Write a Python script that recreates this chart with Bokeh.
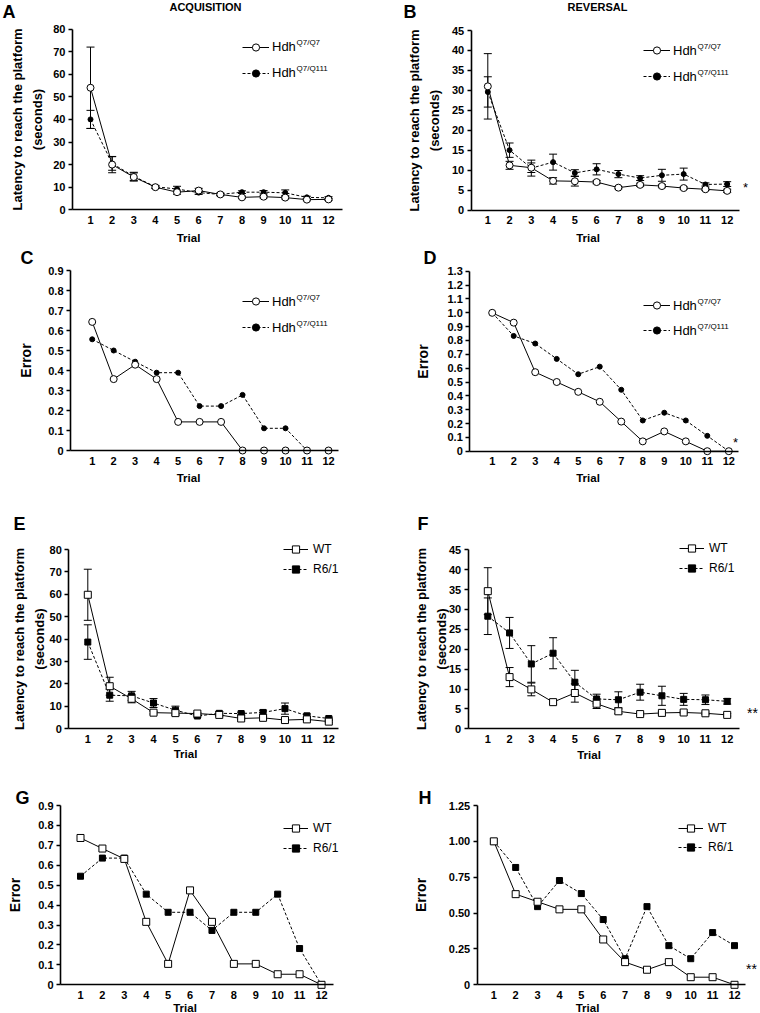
from bokeh.plotting import figure
from bokeh.models import (ColumnDataSource, Whisker, TeeHead, Label, Legend, LegendItem,
                          FixedTicker, Range1d, PrintfTickFormatter, LinearAxis)
from bokeh.core.properties import value
from bokeh.embed import file_html
from bokeh.resources import INLINE

trials = [1, 2, 3, 4, 5, 6, 7, 8, 9, 10, 11, 12]

# A: Hdh acquisition latency (s)
a_wt = [54.0, 20.0, 14.5, 10.0, 7.8, 8.5, 6.8, 5.5, 5.8, 5.4, 4.5, 4.6]
a_wt_sem = [18.0, 3.6, 1.8, 0.6, 0.9, 1.0, 0.5, 0.5, 0.6, 0.6, 0.5, 0.5]
a_q111 = [40.0, 20.5, 14.8, 10.2, 9.2, 7.6, 6.8, 7.8, 7.8, 7.5, 5.5, 5.3]
a_q111_sem = [4.0, 3.0, 1.8, 0.6, 1.2, 0.8, 0.6, 0.6, 0.7, 1.3, 0.5, 0.5]

# B: Hdh reversal latency (s)
b_wt = [31.0, 11.2, 10.6, 7.3, 7.2, 7.0, 5.6, 6.3, 6.0, 5.5, 5.2, 4.8]
b_wt_sem = [8.2, 1.0, 1.2, 0.8, 1.2, 0.4, 0.3, 0.4, 0.4, 0.3, 0.3, 0.4]
b_q111 = [29.6, 15.0, 10.5, 12.0, 9.3, 10.2, 9.0, 8.0, 8.7, 9.0, 6.4, 6.5]
b_q111_sem = [3.8, 1.8, 2.0, 2.0, 0.8, 1.4, 0.9, 0.6, 1.5, 1.5, 0.4, 0.6]

# C: Hdh acquisition error
c_wt = [0.643, 0.357, 0.429, 0.357, 0.143, 0.143, 0.143, 0.0, 0.0, 0.0, 0.0, 0.0]
c_q111 = [0.556, 0.5, 0.444, 0.389, 0.389, 0.222, 0.222, 0.278, 0.111, 0.111, 0.0, 0.0]

# D: Hdh reversal error
d_wt = [1.0, 0.929, 0.571, 0.5, 0.429, 0.357, 0.214, 0.071, 0.143, 0.071, 0.0, 0.0]
d_q111 = [1.0, 0.833, 0.778, 0.667, 0.556, 0.611, 0.444, 0.222, 0.278, 0.222, 0.111, 0.0]

# E: R6/1 acquisition latency (s)
e_wt = [59.8, 19.0, 13.4, 7.2, 7.0, 6.8, 6.2, 4.6, 4.9, 3.9, 4.2, 3.2]
e_wt_sem = [11.4, 4.0, 1.8, 0.6, 1.0, 0.5, 0.6, 0.5, 0.6, 0.5, 0.5, 0.5]
e_r6 = [38.7, 15.0, 14.7, 11.5, 8.3, 5.7, 6.9, 6.8, 7.3, 9.0, 5.8, 4.6]
e_r6_sem = [7.7, 2.7, 2.0, 2.0, 1.8, 0.5, 0.8, 0.6, 1.0, 2.5, 0.8, 0.6]

# F: R6/1 reversal latency (s)
f_wt = [34.6, 13.0, 9.9, 6.7, 9.0, 6.3, 4.4, 3.7, 4.0, 4.1, 3.9, 3.5]
f_wt_sem = [5.9, 2.4, 1.6, 0.5, 2.3, 1.2, 0.6, 0.3, 0.3, 0.3, 0.3, 0.3]
f_r6 = [28.3, 24.1, 16.3, 19.0, 11.7, 7.5, 7.3, 9.2, 8.3, 7.4, 7.3, 6.9]
f_r6_sem = [4.6, 3.9, 4.6, 3.9, 3.0, 1.2, 2.0, 2.0, 2.4, 1.5, 1.2, 0.7]

# G: R6/1 acquisition error
g_wt = [0.737, 0.684, 0.632, 0.316, 0.105, 0.474, 0.316, 0.105, 0.105, 0.053, 0.053, 0.0]
g_r6 = [0.545, 0.636, 0.636, 0.455, 0.364, 0.364, 0.273, 0.364, 0.364, 0.455, 0.182, 0.0]

# H: R6/1 reversal error
h_wt = [1.0, 0.632, 0.579, 0.526, 0.526, 0.316, 0.158, 0.105, 0.158, 0.053, 0.053, 0.0]
h_r6 = [1.0, 0.818, 0.545, 0.727, 0.636, 0.455, 0.182, 0.545, 0.273, 0.182, 0.364, 0.273]

ticks_lat80 = [0, 10, 20, 30, 40, 50, 60, 70, 80]
ticks_lat45 = [0, 5, 10, 15, 20, 25, 30, 35, 40, 45]
ticks_err09 = [0, 0.1, 0.2, 0.3, 0.4, 0.5, 0.6, 0.7, 0.8, 0.9]
ticks_err13 = [0, 0.1, 0.2, 0.3, 0.4, 0.5, 0.6, 0.7, 0.8, 0.9, 1.0, 1.1, 1.2, 1.3]
ticks_err125 = [0, 0.25, 0.5, 0.75, 1.0, 1.25]

LAT_LABEL = "Latency to reach the platform\n(seconds)"
FONT = "Liberation Sans"
W, H = 760, 1013

p = figure(width=W, height=H, x_range=Range1d(0, W), y_range=Range1d(0, H),
           x_axis_type=None, y_axis_type=None, title=None,
           min_border=0, min_border_left=0, min_border_right=0,
           min_border_top=0, min_border_bottom=0,
           output_backend="svg", toolbar_location=None)
p.outline_line_color = None
p.background_fill_color = "white"
p.border_fill_color = "white"

# panel layout: (tick-1 px, tick-12 px, axis left px, axis right px, zero px, top px, top value)
layout_spec = {
    "A": (90.0, 328.0, 72.0, 342.0, 209.3, 28.5, 80),
    "B": (487.3, 726.7, 470.7, 739.3, 209.5, 30.0, 45),
    "C": (91.7, 328.0, 70.0, 338.0, 450.0, 270.0, 0.9),
    "D": (491.7, 728.3, 469.3, 738.3, 450.7, 270.8, 1.3),
    "E": (87.3, 328.3, 68.3, 338.3, 728.3, 549.0, 80),
    "F": (487.3, 726.7, 467.7, 739.3, 728.3, 549.3, 45),
    "G": (80.0, 321.0, 60.0, 333.0, 984.3, 805.0, 0.9),
    "H": (493.3, 734.0, 476.7, 745.0, 984.3, 805.0, 1.25),
}

xr, yr, axis_b = {}, {}, {}
for name, (px1, px12, xl, xrp, py0, ptop, vtop) in layout_spec.items():
    s = (px12 - px1) / 11.0
    k = (py0 - ptop) / vtop
    xr[name] = Range1d(1 + (0 - px1) / s, 1 + (W - px1) / s)
    yr[name] = Range1d((py0 - H) / k, py0 / k)
    axis_b[name] = (1 + (xl - px1) / s, 1 + (xrp - px1) / s, vtop)
p.extra_x_ranges = xr
p.extra_y_ranges = yr


def add_axes(name, yticks, fmt, ylabel, ylsize, ylstand):
    x0, x1, vtop = axis_b[name]
    xa = LinearAxis(x_range_name=name, y_range_name=name, fixed_location=0,
                    bounds=(x0, x1), ticker=FixedTicker(ticks=trials))
    xa.major_tick_line_color = None
    xa.minor_tick_line_color = None
    xa.axis_line_width = 1.6
    xa.major_label_standoff = 0
    xa.major_label_text_font = FONT
    xa.major_label_text_font_size = "11px"
    xa.major_label_text_font_style = "bold"
    xa.major_label_text_color = "black"
    p.add_layout(xa, "below")
    ya = LinearAxis(x_range_name=name, y_range_name=name, fixed_location=x0,
                    bounds=(0, vtop), ticker=FixedTicker(ticks=yticks))
    if fmt is not None:
        ya.formatter = PrintfTickFormatter(format=fmt)
        ya.major_label_overrides = {0: "0"}
    ya.minor_tick_line_color = None
    ya.major_tick_out = 4
    ya.major_tick_in = 0
    ya.major_tick_line_width = 1.3
    ya.axis_line_width = 1.6
    ya.major_label_standoff = 3
    ya.major_label_text_font = FONT
    ya.major_label_text_font_size = "11px"
    ya.major_label_text_font_style = "bold"
    ya.major_label_text_color = "black"
    ya.axis_label = ylabel
    ya.axis_label_text_font = FONT
    ya.axis_label_text_font_size = ylsize
    ya.axis_label_text_font_style = "bold"
    ya.axis_label_text_color = "black"
    ya.axis_label_text_line_height = 1.35
    ya.axis_label_standoff = ylstand
    p.add_layout(ya, "left")


def draw_series(name, ys, sems, marker, size, open_, dash):
    src = ColumnDataSource(dict(x=trials, y=ys))
    if sems is not None:
        lo = [y - e for y, e in zip(ys, sems)]
        hi = [y + e for y, e in zip(ys, sems)]
        wsrc = ColumnDataSource(dict(x=trials, lo=lo, hi=hi))
        p.add_layout(Whisker(source=wsrc, base="x", lower="lo", upper="hi",
                             x_range_name=name, y_range_name=name,
                             line_color="black", line_width=1, level="underlay",
                             upper_head=TeeHead(size=8, line_color="black", line_width=1),
                             lower_head=TeeHead(size=8, line_color="black", line_width=1)))
    ln = p.line("x", "y", source=src, line_color="black", line_width=1, line_dash=dash,
                x_range_name=name, y_range_name=name)
    sc = p.scatter("x", "y", source=src, marker=marker, size=size,
                   fill_color="white" if open_ else "black", line_color="black", line_width=1,
                   x_range_name=name, y_range_name=name)
    return [ln, sc]


def add_label(px, py, text, size, bold=False, align="left", baseline="middle"):
    p.add_layout(Label(x=px, y=H - py, x_units="screen", y_units="screen", text=text,
                       text_font=FONT, text_font_size="%.1fpx" % size,
                       text_font_style="bold" if bold else "normal",
                       text_align=align, text_baseline=baseline, text_color="black"))


def add_legend(items, gx, c1, gap, gw, standoff, fsize):
    ih = 18
    spacing = int(round(gap - ih))
    top = c1 - ih / 2.0
    bottom = top + 2 * ih + spacing
    leg = Legend(items=[LegendItem(label=value(t), renderers=r) for t, r in items],
                 location=(gx, H - bottom), orientation="vertical",
                 glyph_width=gw, glyph_height=ih, label_height=ih, label_width=10,
                 spacing=spacing, padding=0, margin=0, label_standoff=standoff,
                 border_line_color=None, background_fill_alpha=0,
                 label_text_font=FONT, label_text_font_size="%dpx" % fsize,
                 label_text_color="black", label_text_baseline="middle")
    p.add_layout(leg)


def hdh_panel(name, wt, q111, wt_sem, q111_sem, yticks, fmt, ylabel, ylsize, ylstand,
              leg_x, leg_c1, leg_gap):
    add_axes(name, yticks, fmt, ylabel, ylsize, ylstand)
    r_q = draw_series(name, q111, q111_sem, "circle", 5, False, "3 2")
    r_w = draw_series(name, wt, wt_sem, "circle", 7, True, "solid")
    add_legend([("Hdh", r_w), ("Hdh", r_q)], leg_x, leg_c1, leg_gap, 27, 3, 13)
    sx = leg_x + 27 + 3 + 24
    add_label(sx, leg_c1 - 4.5, "Q7/Q7", 8)
    add_label(sx, leg_c1 + leg_gap - 4.5, "Q7/Q111", 8)


def r6_panel(name, wt, r6, wt_sem, r6_sem, yticks, fmt, ylabel, ylsize, ylstand,
             leg_x, leg_c1, leg_gap):
    add_axes(name, yticks, fmt, ylabel, ylsize, ylstand)
    r_r = draw_series(name, r6, r6_sem, "square", 6, False, "3 2")
    r_w = draw_series(name, wt, wt_sem, "square", 7, True, "solid")
    add_legend([("WT", r_w), ("R6/1", r_r)], leg_x, leg_c1, leg_gap, 25, 5, 12)


hdh_panel("A", a_wt, a_q111, a_wt_sem, a_q111_sem, ticks_lat80, None,
          LAT_LABEL, "13px", 5, 242, 46.7, 26)
hdh_panel("B", b_wt, b_q111, b_wt_sem, b_q111_sem, ticks_lat45, None,
          LAT_LABEL, "13px", 7, 643, 50, 26)
hdh_panel("C", c_wt, c_q111, None, None, ticks_err09, "%.1f",
          "Error", "14px", 11, 242, 301, 26)
hdh_panel("D", d_wt, d_q111, None, None, ticks_err13, "%.1f",
          "Error", "14px", 13, 643, 305, 25)
r6_panel("E", e_wt, e_r6, e_wt_sem, e_r6_sem, ticks_lat80, None,
         LAT_LABEL, "13px", -1, 283, 549, 20)
r6_panel("F", f_wt, f_r6, f_wt_sem, f_r6_sem, ticks_lat45, None,
         LAT_LABEL, "13px", -3, 679, 548, 20)
r6_panel("G", g_wt, g_r6, None, None, ticks_err09, "%.1f",
         "Error", "14px", 12, 283, 828, 20)
r6_panel("H", h_wt, h_r6, None, None, ticks_err125, "%.2f",
         "Error", "14px", 17, 678, 828, 19)

# panel letters and column headers
for letter, lx, ly in [("A", 2, 11.5), ("B", 403, 11.5), ("C", 20, 257.5), ("D", 423, 257.5),
                       ("E", 13, 523.5), ("F", 417, 523.5), ("G", 15, 797.5), ("H", 418, 797.5)]:
    add_label(lx, ly, letter, 18, bold=True)
add_label(205, 6.5, "ACQUISITION", 11, bold=True, align="center")
add_label(597, 6.5, "REVERSAL", 11, bold=True, align="center")

# x-axis titles
for tx, ty in [(188, 237.5), (587.5, 237.5), (188, 477), (587.5, 477),
               (185, 753.5), (588.5, 754), (184.5, 1007), (587, 1007)]:
    add_label(tx, ty, "Trial", 11.5, bold=True, align="center")

# significance marks
add_label(745, 187, "*", 13, align="center")
add_label(735, 442, "*", 13, align="center")
add_label(752, 712.5, "**", 14, align="center")
add_label(751, 968.5, "**", 14, align="center")

open("out.html", "w").write(file_html(p, INLINE))
